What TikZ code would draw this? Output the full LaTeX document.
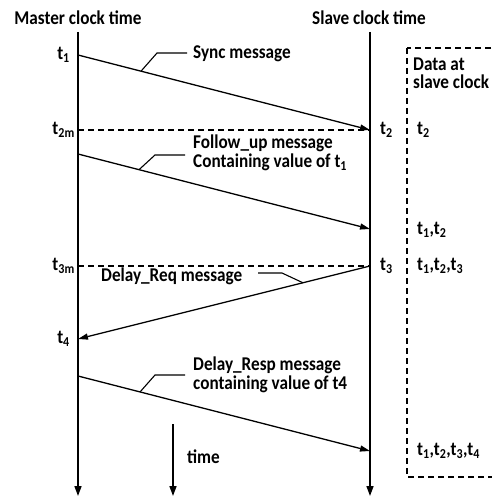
\documentclass[tikz,border=0pt]{standalone}
\usepackage{fontspec}
\setmainfont{Carlito}[FakeStretch=0.88]
\usetikzlibrary{arrows.meta}
\tikzset{
  lbl/.style={font=\fontsize{19.5}{18.5}\selectfont\bfseries, inner sep=0pt},
  axis/.style={line width=1.6pt, -{Triangle[length=10pt,width=7pt]}},
  msg/.style={line width=1.3pt, -{Triangle[length=10pt,width=6pt]}},
  stamp/.style={line width=1.1pt, dash pattern=on 6pt off 4pt},
  leader/.style={line width=1.1pt}
}
\begin{document}
\begin{tikzpicture}[x=1pt,y=-1pt]
    \useasboundingbox (0,0) rectangle (491,497);
    % clock axes
    \node[lbl, anchor=base] (mhead) at (78,25) {Master clock time};
    \node[lbl, anchor=base] (shead) at (369,25) {Slave clock time};
    \coordinate (mtop) at (78,32); \coordinate (mbot) at (78,496);
    \coordinate (stop) at (370,32); \coordinate (sbot) at (370,496);
    \draw[axis] (mtop) -- (mbot);
    \draw[axis] (stop) -- (sbot);
    \coordinate (ttop) at (173,424); \coordinate (tbot) at (173,496);
    \draw[axis] (ttop) -- (tbot);
    \node[lbl, anchor=base west] (tlbl) at (187,463) {time};

    % time stamps on the master side
    \coordinate (m1) at (78,55);  \node[lbl, anchor=east] (t1) at (70,55) {t\textsubscript{1}};
    \coordinate (m2) at (78,130); \node[lbl, anchor=east] (t2m) at (75,130) {t\textsubscript{2m}};
    \coordinate (m3) at (78,154);
    \coordinate (m4) at (78,266); \node[lbl, anchor=east] (t3m) at (75,266) {t\textsubscript{3m}};
    \coordinate (m5) at (78,339); \node[lbl, anchor=east] (t4) at (70,339) {t\textsubscript{4}};
    \coordinate (m6) at (78,376);

    % time stamps on the slave side
    \coordinate (s1) at (370,130); \node[lbl, anchor=west] (t2) at (380,130) {t\textsubscript{2}};
    \coordinate (s2) at (370,229);
    \coordinate (s3) at (370,266); \node[lbl, anchor=west] (t3) at (380,266) {t\textsubscript{3}};
    \coordinate (s4) at (370,451);

    % messages
    \draw[msg] (m1) -- (s1);
    \draw[stamp] (m2) -- (s1);
    \draw[msg] (m3) -- (s2);
    \draw[stamp] (m4) -- (s3);
    \draw[msg] (s3) -- (m5);
    \draw[msg] (m6) -- (s4);

    % message labels with leaders
    \node[lbl, anchor=base west] (sync) at (193,59) {Sync message};
    \coordinate (l1a) at (187,53); \coordinate (l1b) at (157,53); \coordinate (l1c) at (141,71.2);
    \draw[leader] (l1a) -- (l1b) -- (l1c);

    \node[lbl, anchor=base west, align=left] (follow) at (193,167.5) {Follow\_up message\\Containing value of t\textsubscript{1}};
    \coordinate (l2a) at (185,155); \coordinate (l2b) at (155,155); \coordinate (l2c) at (139,169.7);
    \draw[leader] (l2a) -- (l2b) -- (l2c);

    \node[lbl, anchor=base west] (dreq) at (101,281) {Delay\_Req message};
    \coordinate (l3a) at (258,273); \coordinate (l3b) at (282,273); \coordinate (l3c) at (303,282.8);
    \draw[leader] (l3a) -- (l3b) -- (l3c);

    \node[lbl, anchor=base west, align=left] (dresp) at (193,389) {Delay\_Resp message\\containing value of t4};
    \coordinate (l4a) at (185,375); \coordinate (l4b) at (155,375); \coordinate (l4c) at (140,392);
    \draw[leader] (l4a) -- (l4b) -- (l4c);

    % data held at the slave clock
    \coordinate (boxnw) at (407,48); \coordinate (boxse) at (500,477);
    \draw[stamp] (boxnw) rectangle (boxse);
    \node[lbl, anchor=base west, align=left] (dhead) at (413,89) {Data at\\slave clock};
    \node[lbl, anchor=west] (d1) at (417,130) {t\textsubscript{2}};
    \node[lbl, anchor=west] (d2) at (417,230) {t\textsubscript{1},t\textsubscript{2}};
    \node[lbl, anchor=west] (d3) at (417,266) {t\textsubscript{1},t\textsubscript{2},t\textsubscript{3}};
    \node[lbl, anchor=west] (d4) at (417,451) {t\textsubscript{1},t\textsubscript{2},t\textsubscript{3},t\textsubscript{4}};
\end{tikzpicture}
\end{document}
